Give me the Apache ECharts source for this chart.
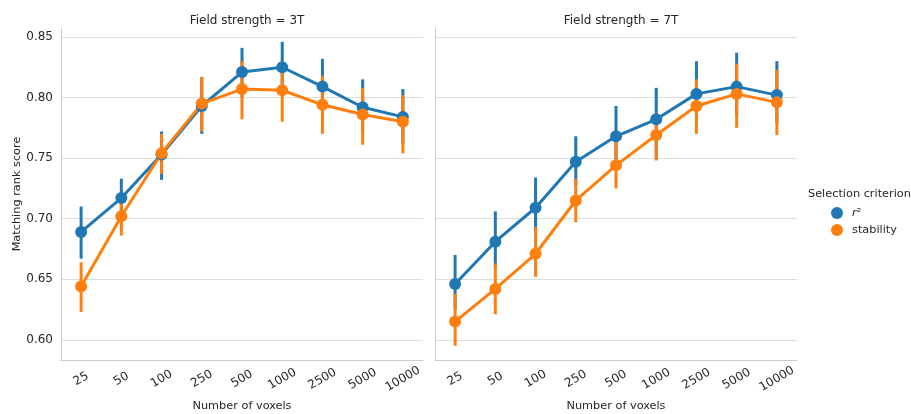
<!DOCTYPE html>
<html>
<head>
<meta charset="utf-8">
<script src="https://cdn.jsdelivr.net/npm/echarts@6/dist/echarts.min.js"></script>
<style>
html, body { margin: 0; padding: 0; background: #ffffff; }
#chart { width: 911px; height: 414px; }
</style>
</head>
<body>
<div id="chart"></div>
<script>
// Number of voxels kept per selection (categorical x axis)
const voxelCounts = ['25', '50', '100', '250', '500', '1000', '2500', '5000', '10000'];
const yTicks = [0.60, 0.65, 0.70, 0.75, 0.80, 0.85];

// Field strength = 3T
const r2Mean3T   = [0.689, 0.717, 0.753, 0.793, 0.821, 0.825, 0.809, 0.792, 0.784];
const r2Lo3T     = [0.667, 0.700, 0.732, 0.770, 0.800, 0.806, 0.786, 0.771, 0.762];
const r2Hi3T     = [0.710, 0.733, 0.772, 0.817, 0.841, 0.846, 0.832, 0.815, 0.807];
const stabMean3T = [0.644, 0.702, 0.754, 0.795, 0.807, 0.806, 0.794, 0.786, 0.780];
const stabLo3T   = [0.623, 0.686, 0.737, 0.772, 0.782, 0.780, 0.770, 0.761, 0.754];
const stabHi3T   = [0.664, 0.720, 0.770, 0.817, 0.830, 0.830, 0.818, 0.808, 0.802];

// Field strength = 7T
const r2Mean7T   = [0.646, 0.681, 0.709, 0.747, 0.768, 0.782, 0.803, 0.809, 0.802];
const r2Lo7T     = [0.625, 0.660, 0.688, 0.727, 0.746, 0.749, 0.780, 0.785, 0.779];
const r2Hi7T     = [0.670, 0.706, 0.734, 0.768, 0.793, 0.808, 0.830, 0.837, 0.830];
const stabMean7T = [0.615, 0.642, 0.671, 0.715, 0.744, 0.769, 0.793, 0.803, 0.796];
const stabLo7T   = [0.595, 0.621, 0.652, 0.697, 0.725, 0.748, 0.770, 0.775, 0.769];
const stabHi7T   = [0.638, 0.663, 0.693, 0.733, 0.765, 0.787, 0.815, 0.828, 0.823];

const BLUE = '#1f77b4';
const ORANGE = '#ff7f0e';
const TEXT = '#262626';
const FONT = 'DejaVu Sans';

function errorBarRenderer(color) {
  return function (params, api) {
    const x = api.value(0);
    const lo = api.coord([x, api.value(1)]);
    const hi = api.coord([x, api.value(2)]);
    return {
      type: 'line',
      shape: { x1: lo[0], y1: lo[1], x2: hi[0], y2: hi[1] },
      style: { stroke: color, lineWidth: 3 }
    };
  };
}

function errorBars(lo, hi, color, axisIdx, name) {
  return {
    type: 'custom',
    name: name,
    xAxisIndex: axisIdx,
    yAxisIndex: axisIdx,
    renderItem: errorBarRenderer(color),
    encode: { x: 0, y: [1, 2] },
    itemStyle: { color: color },
    data: lo.map((v, i) => [i, v, hi[i]]),
    silent: true,
    z: 2
  };
}

function pointLine(mean, color, axisIdx, name) {
  return {
    type: 'line',
    name: name,
    xAxisIndex: axisIdx,
    yAxisIndex: axisIdx,
    data: mean,
    symbol: 'circle',
    symbolSize: 12,
    showSymbol: true,
    lineStyle: { color: color, width: 3 },
    itemStyle: { color: color },
    emphasis: { disabled: true },
    z: 2
  };
}

function makeXAxis(gridIndex) {
  return {
    type: 'category',
    gridIndex: gridIndex,
    data: voxelCounts,
    boundaryGap: true,
    name: 'Number of voxels',
    nameLocation: 'middle',
    nameGap: 40,
    nameTextStyle: { color: TEXT, fontFamily: FONT, fontSize: 11.3 },
    axisLine: { show: true, lineStyle: { color: '#cccccc', width: 1 } },
    axisTick: { show: false },
    axisLabel: {
      rotate: 30, align: 'center', verticalAlign: 'middle',
      color: TEXT, fontFamily: FONT, fontSize: 12, margin: 19
    },
    splitLine: { show: false }
  };
}

function makeYAxis(gridIndex, showLabels) {
  return {
    type: 'value',
    gridIndex: gridIndex,
    min: 0.5833,
    max: 0.8574,
    name: showLabels ? 'Matching rank score' : '',
    nameLocation: 'middle',
    nameGap: 38,
    nameTextStyle: { color: TEXT, fontFamily: FONT, fontSize: 11.3 },
    axisLine: { show: true, lineStyle: { color: '#cccccc', width: 1 } },
    axisTick: { show: false, customValues: yTicks },
    axisLabel: {
      show: showLabels,
      customValues: yTicks,
      color: TEXT, fontFamily: FONT, fontSize: 12, margin: 8,
      formatter: v => v.toFixed(2)
    },
    splitLine: { show: true, lineStyle: { color: '#dddddd', width: 1 } }
  };
}

const chart = echarts.init(document.getElementById('chart'), null, { renderer: 'canvas' });

chart.setOption({
  animation: false,
  backgroundColor: '#ffffff',
  textStyle: { fontFamily: FONT },
  title: [
    { text: 'Field strength = 3T', left: 242, top: 10, textAlign: 'center',
      textStyle: { color: TEXT, fontFamily: FONT, fontSize: 12, fontWeight: 'normal' } },
    { text: 'Field strength = 7T', left: 616, top: 10, textAlign: 'center',
      textStyle: { color: TEXT, fontFamily: FONT, fontSize: 12, fontWeight: 'normal' } }
  ],
  grid: [
    { left: 61, top: 28, width: 362, height: 332, containLabel: false, outerBoundsMode: 'none' },
    { left: 435, top: 28, width: 362, height: 332, containLabel: false, outerBoundsMode: 'none' }
  ],
  xAxis: [makeXAxis(0), makeXAxis(1)],
  yAxis: [makeYAxis(0, true), makeYAxis(1, false)],
  legend: {
    left: 826, top: 202,
    orient: 'vertical',
    icon: 'circle',
    itemWidth: 12, itemHeight: 12,
    itemGap: 5,
    data: ['r2', 'stability'],
    selectedMode: false,
    textStyle: {
      color: TEXT, fontFamily: FONT, fontSize: 11.3,
      padding: [0, 0, 0, 4],
      rich: {
        it: { fontStyle: 'italic', fontFamily: FONT, fontSize: 11.3, color: TEXT },
        sup: { fontFamily: FONT, fontSize: 11.3, color: TEXT }
      }
    },
    formatter: name => name === 'r2' ? '{it|r}{sup|²}' : name
  },
  graphic: [
    { type: 'text', left: 808, top: 189,
      style: { text: 'Selection criterion', fill: TEXT, font: '11.3px "DejaVu Sans"' } }
  ],
  series: [
    errorBars(r2Lo3T, r2Hi3T, BLUE, 0, 'r2'),
    pointLine(r2Mean3T, BLUE, 0, 'r2'),
    errorBars(stabLo3T, stabHi3T, ORANGE, 0, 'stability'),
    pointLine(stabMean3T, ORANGE, 0, 'stability'),
    errorBars(r2Lo7T, r2Hi7T, BLUE, 1, 'r2'),
    pointLine(r2Mean7T, BLUE, 1, 'r2'),
    errorBars(stabLo7T, stabHi7T, ORANGE, 1, 'stability'),
    pointLine(stabMean7T, ORANGE, 1, 'stability')
  ]
});
</script>
</body>
</html>
